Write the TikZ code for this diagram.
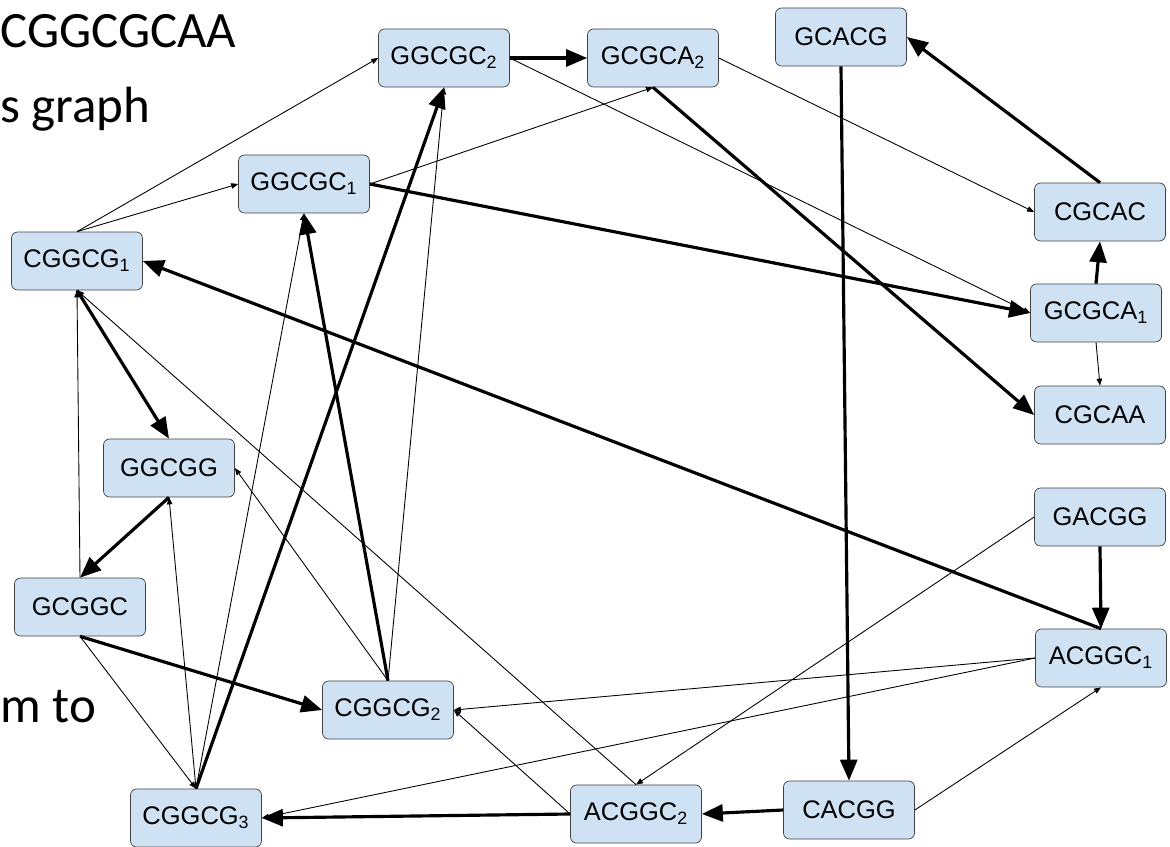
\documentclass[tikz,border=0pt]{standalone}
\usepackage{fontspec}
\setmainfont{Liberation Sans}
\newfontfamily\slidefont{Carlito}
\usetikzlibrary{arrows.meta}

\definecolor{kmerblue}{RGB}{207,226,243}
\tikzset{
  kmer/.style={draw=black!75, fill=kmerblue, rounded corners=0.12cm,
    minimum width=2.62cm, minimum height=1.16cm, inner sep=0pt,
    font=\fontsize{14.5}{17}\selectfont},
  eul/.style={line width=1.8pt, -{Triangle[length=0.42cm,width=0.34cm]}},
  ovl/.style={line width=0.5pt, -{Triangle[length=0.14cm,width=0.11cm]}},
  slide/.style={anchor=base west, inner sep=0pt, font=\slidefont\fontsize{29}{34}\selectfont}
}

\begin{document}
\begin{tikzpicture}[x=0.02cm, y=-0.02cm]
	\useasboundingbox (0,0) rectangle (1170,847);

	\node[slide] (t1) at (0,48) {CGGCGCAA};
	\node[slide] (t2) at (0,123) {s graph};
	\node[slide] (t3) at (0,722) {m to};

	\node[kmer] (ggcgc2) at (444,58) {GGCGC\textsubscript{2}};
	\node[kmer] (gcgca2) at (653,58) {GCGCA\textsubscript{2}};
	\node[kmer] (gcacg)  at (841,37) {GCACG};
	\node[kmer] (ggcgc1) at (304,184) {GGCGC\textsubscript{1}};
	\node[kmer] (cggcg1) at (77,261) {CGGCG\textsubscript{1}};
	\node[kmer] (cgcac)  at (1100,212) {CGCAC};
	\node[kmer] (gcgca1) at (1096,313) {GCGCA\textsubscript{1}};
	\node[kmer] (cgcaa)  at (1100,415) {CGCAA};
	\node[kmer] (ggcgg)  at (169,468) {GGCGG};
	\node[kmer] (gacgg)  at (1100,517) {GACGG};
	\node[kmer] (gcggc)  at (80,607) {GCGGC};
	\node[kmer] (acggc1) at (1101,658) {ACGGC\textsubscript{1}};
	\node[kmer] (cggcg2) at (388,710) {CGGCG\textsubscript{2}};
	\node[kmer] (cggcg3) at (196,818) {CGGCG\textsubscript{3}};
	\node[kmer] (acggc2) at (636,814) {ACGGC\textsubscript{2}};
	\node[kmer] (cacgg)  at (849,810) {CACGG};

	%overlaps
	\draw[ovl] (cggcg1.north) -- (ggcgc2.west);
	\draw[ovl] (cggcg1.north) -- (ggcgc1.west);
	\draw[ovl] (ggcgc1.east) -- (gcgca2.south);
	\draw[ovl] (ggcgc2.east) -- (gcgca1.west);
	\draw[ovl] (gcgca2.east) -- (cgcac.west);
	\draw[ovl] (gcgca1.south) -- (cgcaa.north);
	\draw[ovl] (acggc2.north) -- (cggcg1.south);
	\draw[ovl] (gcggc.north) -- (cggcg1.south);
	\draw[ovl] (cggcg2.north) -- (ggcgc2.south);
	\draw[ovl] (cggcg2.north) -- (ggcgg.east);
	\draw[ovl] (cggcg3.north) -- (ggcgg.south);
	\draw[ovl] (cggcg3.north) -- (ggcgc1.south);
	\draw[ovl] (gcggc.south) -- (cggcg3.north);
	\draw[ovl] (gacgg.west) -- (acggc2.north);
	\draw[ovl] (acggc1.west) -- (cggcg2.east);
	\draw[ovl] (acggc1.west) -- (cggcg3.east);
	\draw[ovl] (acggc2.west) -- (cggcg2.east);
	\draw[ovl] (cacgg.east) -- (acggc1.south);

	%path
	\draw[eul] (ggcgc2.east) -- (gcgca2.west);
	\draw[eul] (gcgca2.south) -- (cgcaa.west);
	\draw[eul] (gcacg.south) -- (cacgg.north);
	\draw[eul] (cgcac.north) -- (gcacg.east);
	\draw[eul] (gcgca1.north) -- (cgcac.south);
	\draw[eul] (ggcgc1.east) -- (gcgca1.west);
	\draw[eul] (acggc1.north) -- (cggcg1.east);
	\draw[eul] (gacgg.south) -- (acggc1.north);
	\draw[eul] (cggcg1.south) -- (ggcgg.north);
	\draw[eul] (ggcgg.south) -- (gcggc.north);
	\draw[eul] (gcggc.south) -- (cggcg2.west);
	\draw[eul] (cggcg2.north) -- (ggcgc1.south);
	\draw[eul] (cggcg3.north) -- (ggcgc2.south);
	\draw[eul] (acggc2.west) -- (cggcg3.east);
	\draw[eul] (cacgg.west) -- (acggc2.east);
\end{tikzpicture}
\end{document}
